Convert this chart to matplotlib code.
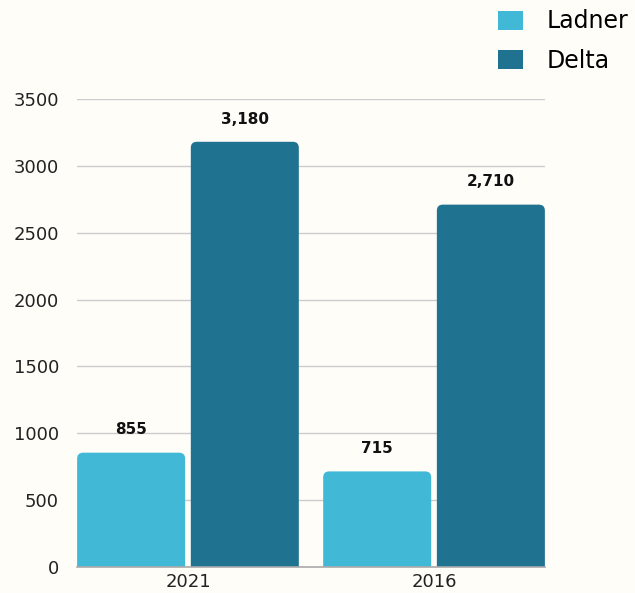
import numpy as np
import matplotlib
matplotlib.use("Agg")
import matplotlib.pyplot as plt
from matplotlib.patches import FancyBboxPatch, Patch

# datos
anos = ["2021", "2016"]
ladner = [855, 715]
delta = [3180, 2710]
series = ["Ladner", "Delta"]
cores = ["#42B8D7", "#1F7390"]
fundo = "#FFFDF8"

fig = plt.figure(figsize=(6.35, 5.93), dpi=100, facecolor=fundo)
ax = fig.add_axes([77/635, 1-567/593, (545-77)/635, (567-99)/593])
ax.set_facecolor(fundo)

x = np.arange(len(anos))
larg = 0.439
desl = 0.231

barras = []
for vals, d, c in [(ladner, -desl, cores[0]), (delta, desl, cores[1])]:
    rects = ax.bar(x + d, vals, larg, color=c, alpha=0)
    barras.append((rects, c))

# cantos arredondados (so em cima, a base fica abaixo do eixo)
px_x = 1/246.0
px_y = 3500/468.0
for rects, c in barras:
    for r in rects:
        h = r.get_height()
        p = FancyBboxPatch((r.get_x(), -60), r.get_width(), h + 60,
                           boxstyle="round,pad=0,rounding_size=%f" % (6*px_x),
                           mutation_aspect=px_y/px_x, facecolor=c,
                           edgecolor="none", zorder=3)
        ax.add_patch(p)
        ax.annotate(f"{h:,}", (r.get_x() + r.get_width()/2, h),
                    xytext=(0, 11), textcoords="offset points",
                    ha="center", va="bottom", fontsize=11,
                    fontweight="bold", color="#111111")

ax.set_xlim(-0.451, 1.451)
ax.set_ylim(0, 3500)
ax.set_yticks(np.arange(0, 3501, 500))
ax.set_xticks(x)
ax.set_xticklabels(anos)
ax.tick_params(axis="both", length=0, labelsize=13, colors="#222222")
ax.tick_params(axis="y", pad=13)
ax.tick_params(axis="x", pad=4)
ax.grid(axis="y", color="#CCCCCC", linewidth=1, zorder=0)
ax.set_axisbelow(True)
for s in ["top", "right", "left"]:
    ax.spines[s].set_visible(False)
ax.spines["bottom"].set_color("#AAAAAA")
ax.spines["bottom"].set_linewidth(1.2)
ax.spines["bottom"].set_zorder(4)

handles = [Patch(facecolor=c, edgecolor="none") for c in cores]
fig.legend(handles, series, loc="upper left", bbox_to_anchor=(489/635, 1.0),
           frameon=False, fontsize=17, handlelength=1.02, handleheight=0.85,
           handletextpad=1.0, labelspacing=0.66, borderaxespad=0.0)

fig.savefig("out.png", dpi=100, facecolor=fundo)
